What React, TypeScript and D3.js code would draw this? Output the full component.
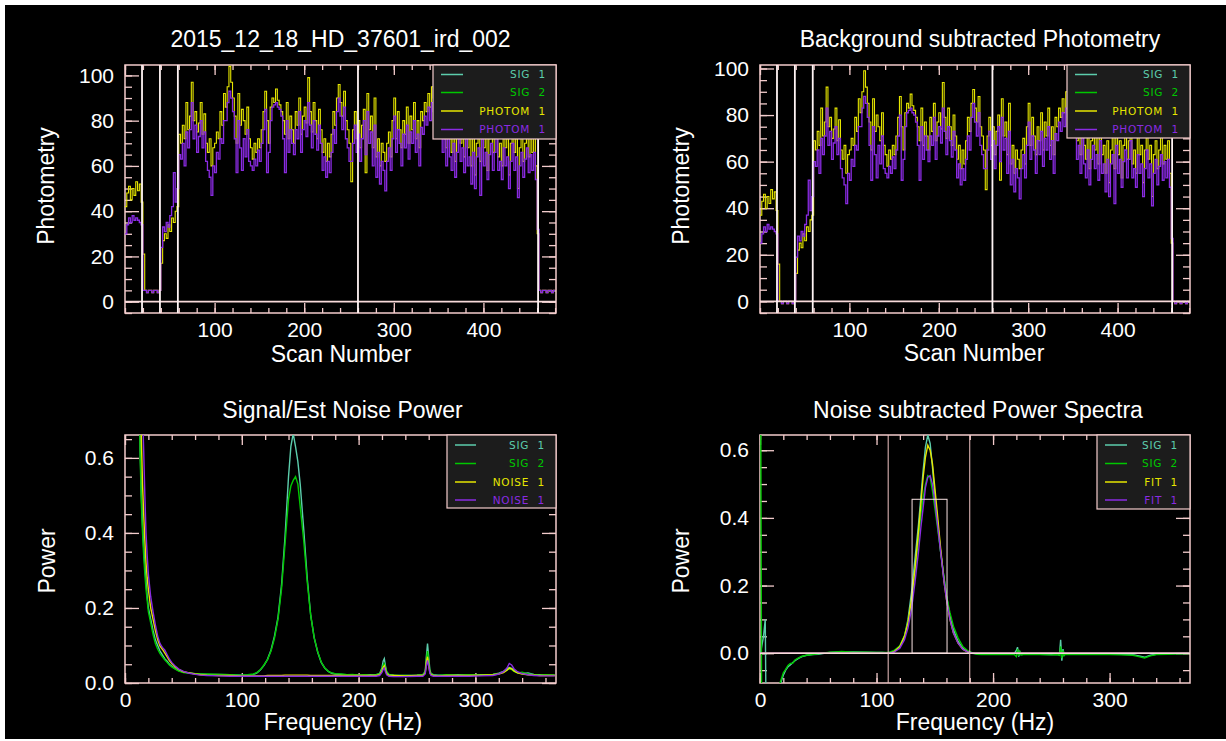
import { useEffect, useRef } from "react";
import * as d3 from "d3";

const W = 1226;
const H = 741;

// ---- photometry (one value every 2 scans, scan 0 .. 480)
const scans = d3.range(0, 482, 2);

const rawPhotomYellow = [
  42, 48, 51, 45, 50, 47, 53, 49, 52, 44,
  21, 5, 4, 5, 5, 4, 5, 5, 4, 5,
  17, 27, 30, 28, 34, 31, 37, 35, 40, 42,
  74, 70, 78, 72, 88, 76,
  82, 97, 80, 84, 75, 79, 88, 74, 83, 70,
  66, 72, 60, 68, 70, 75, 72, 84, 78, 92,
  86, 95, 104, 97, 90, 82, 70, 92, 78, 85,
  80, 74, 86, 72, 68, 63, 70, 66, 72, 68,
  76, 84, 93, 80, 70, 86, 90, 88, 94, 89,
  87, 84, 80, 74, 88, 72, 82, 76, 70, 84,
  78, 90, 74, 82, 86, 79, 99, 84, 75, 88,
  80, 72, 85, 76, 66, 72, 62, 70, 64, 74,
  84, 78, 90, 96, 88, 82, 93, 80, 76, 70,
  53, 76, 84, 72, 80, 68, 78, 85, 57, 92,
  76, 82, 68, 90, 64, 72, 60, 70, 66, 62,
  70, 75, 64, 80, 90, 72, 84, 76, 68, 80,
  74, 86, 70, 82, 76, 88, 72, 80, 68, 84,
  80, 88, 84, 92, 86, 95, 90, 97, 88, 82,
  86, 74, 80, 68, 90, 72, 66, 78, 62, 74,
  80, 70, 76, 64, 82, 68, 72, 60, 74, 56,
  70, 76, 62, 80, 68, 74, 58, 72, 78, 66,
  74, 82, 64, 70, 60, 76, 68, 72, 56, 70,
  78, 66, 72, 50, 68, 74, 62, 70, 76, 64,
  72, 66, 74, 60,
  30, 5, 4, 5, 5, 4, 5, 5, 4, 5, 5,
];

const rawPhotomPurple = [
  30, 34, 37, 35, 38, 36, 37, 36, 35, 34,
  5, 5, 4, 5, 5, 4, 5, 5, 4, 5,
  24, 33, 31, 35, 33, 38, 42, 57, 44, 50,
  65, 63, 70, 60, 75, 68,
  76, 88, 72, 78, 66, 73, 80, 68, 75, 62,
  58, 55, 47, 60, 57, 66, 63, 72, 70, 80,
  80, 88, 93, 90, 84, 72, 57, 80, 68, 58,
  72, 64, 76, 62, 60, 58, 63, 60, 67, 62,
  70, 76, 85, 57, 66, 80, 86, 87, 88, 86,
  85, 82, 72, 57, 80, 66, 76, 70, 65, 76,
  72, 84, 66, 76, 80, 73, 88, 78, 68, 80,
  74, 67, 78, 70, 58, 64, 55, 62, 57, 66,
  76, 70, 84, 90, 82, 76, 86, 72, 68, 62,
  62, 70, 78, 66, 74, 62, 72, 80, 65, 84,
  70, 75, 60, 78, 55, 66, 52, 62, 58, 49,
  62, 68, 58, 72, 82, 66, 76, 70, 60, 74,
  68, 78, 63, 75, 70, 80, 66, 74, 60, 77,
  74, 82, 78, 86, 80, 88, 84, 90, 80, 76,
  78, 66, 72, 60, 82, 64, 58, 70, 55, 66,
  72, 62, 68, 57, 74, 60, 64, 52, 66, 50,
  64, 68, 47, 72, 60, 66, 54, 65, 70, 58,
  66, 74, 58, 62, 54, 68, 60, 64, 50, 62,
  70, 58, 64, 46, 60, 66, 55, 63, 68, 57,
  65, 58, 66, 54,
  32, 5, 4, 5, 5, 4, 5, 5, 4, 5, 5,
];

const subPhotomYellow = [
  37, 43, 46, 40, 45, 42, 48, 44, 47, 39,
  16, 0, -1, 0, 0, -1, 0, 0, -1, 0,
  12, 22, 25, 23, 29, 26, 32, 30, 35, 37,
  69, 65, 73, 67, 83, 71,
  77, 92, 75, 79, 70, 74, 83, 69, 78, 65,
  61, 67, 55, 63, 65, 70, 67, 79, 73, 87,
  81, 90, 99, 92, 85, 77, 65, 87, 73, 80,
  75, 69, 81, 67, 63, 58, 65, 61, 67, 63,
  71, 79, 88, 75, 65, 81, 85, 83, 89, 84,
  82, 79, 75, 69, 83, 67, 77, 71, 65, 79,
  73, 85, 69, 77, 81, 74, 94, 79, 70, 83,
  75, 67, 80, 71, 61, 67, 57, 65, 59, 69,
  79, 73, 85, 91, 83, 77, 88, 75, 71, 65,
  48, 71, 79, 67, 75, 63, 73, 80, 52, 87,
  71, 77, 63, 85, 59, 67, 55, 65, 61, 57,
  65, 70, 59, 75, 85, 67, 79, 71, 63, 75,
  69, 81, 65, 77, 71, 83, 67, 75, 63, 79,
  75, 83, 79, 87, 81, 90, 85, 92, 83, 77,
  81, 69, 75, 63, 85, 67, 61, 73, 57, 69,
  75, 65, 71, 59, 77, 63, 67, 55, 69, 51,
  65, 71, 57, 75, 63, 69, 53, 67, 73, 61,
  69, 77, 59, 65, 55, 71, 63, 67, 51, 65,
  73, 61, 67, 45, 63, 69, 57, 65, 71, 59,
  67, 61, 69, 55,
  25, 0, -1, 0, 0, -1, 0, 0, -1, 0, 0,
];

const subPhotomPurple = [
  25, 29, 32, 30, 33, 31, 32, 31, 30, 29,
  0, 0, -1, 0, 0, -1, 0, 0, -1, 0,
  19, 28, 26, 30, 28, 33, 37, 52, 39, 45,
  60, 58, 65, 55, 70, 63,
  71, 83, 67, 73, 61, 68, 75, 63, 70, 57,
  53, 50, 42, 55, 52, 61, 58, 67, 65, 75,
  75, 83, 88, 85, 79, 67, 52, 75, 63, 53,
  67, 59, 71, 57, 55, 53, 58, 55, 62, 57,
  65, 71, 80, 52, 61, 75, 81, 82, 83, 81,
  80, 77, 67, 52, 75, 61, 71, 65, 60, 71,
  67, 79, 61, 71, 75, 68, 83, 73, 63, 75,
  69, 62, 73, 65, 53, 59, 50, 57, 52, 61,
  71, 65, 79, 85, 77, 71, 81, 67, 63, 57,
  57, 65, 73, 61, 69, 57, 67, 75, 60, 79,
  65, 70, 55, 73, 50, 61, 47, 57, 53, 44,
  57, 63, 53, 67, 77, 61, 71, 65, 55, 69,
  63, 73, 58, 70, 65, 75, 61, 69, 55, 72,
  69, 77, 73, 81, 75, 83, 79, 85, 75, 71,
  73, 61, 67, 55, 77, 59, 53, 65, 50, 61,
  67, 57, 63, 52, 69, 55, 59, 47, 61, 45,
  59, 63, 42, 67, 55, 61, 49, 60, 65, 53,
  61, 69, 53, 57, 49, 63, 55, 59, 45, 57,
  65, 53, 59, 41, 55, 61, 50, 58, 63, 52,
  60, 53, 61, 49,
  27, 0, -1, 0, 0, -1, 0, 0, -1, 0, 0,
];

// scan numbers where the white markers are drawn
const scanMarks = [19, 39, 59, 260, 461];

// ---- signal / estimated noise power
const snFreq = [
  12, 13, 14, 15, 16, 17, 18, 19, 20,
  22, 24, 26, 28, 30, 32, 34, 36, 38, 40,
  43, 46, 50, 55, 60, 65, 70, 80, 90, 100, 105, 110,
  113, 116, 119, 122, 125, 128, 131, 134, 137, 140,
  142, 144, 146, 148, 150,
  153, 156, 159, 162, 165, 168, 171, 174, 177, 180,
  185, 190, 195, 200, 205, 210, 215, 218, 220,
  221, 222, 223, 224, 226, 230, 240, 250, 255,
  257, 258, 259, 260, 261, 262, 264, 268, 275,
  285, 295, 305, 315, 320, 324, 327, 329, 331, 333,
  336, 340, 345, 350, 355, 360, 368,
];

const snSig1 = [
  0.9, 0.62, 0.5, 0.42, 0.36, 0.31, 0.27, 0.23, 0.2,
  0.17, 0.14, 0.115, 0.1, 0.085, 0.075, 0.065, 0.058, 0.05, 0.045,
  0.038, 0.033, 0.029, 0.027, 0.025, 0.024, 0.023, 0.023, 0.022, 0.021, 0.021, 0.023,
  0.027, 0.035, 0.047, 0.063, 0.088, 0.125, 0.175, 0.26, 0.39, 0.55,
  0.63, 0.665, 0.63, 0.59, 0.53,
  0.41, 0.28, 0.18, 0.12, 0.082, 0.055, 0.04, 0.031, 0.026, 0.024,
  0.023, 0.022, 0.022, 0.021, 0.021, 0.022, 0.022, 0.025, 0.04,
  0.058, 0.065, 0.045, 0.03, 0.023, 0.021, 0.02, 0.021, 0.022,
  0.03, 0.07, 0.105, 0.07, 0.035, 0.025, 0.022, 0.021, 0.021,
  0.022, 0.021, 0.022, 0.023, 0.026, 0.031, 0.037, 0.041, 0.039, 0.034,
  0.028, 0.025, 0.027, 0.023, 0.022, 0.021, 0.021,
];

const snSig2 = [
  0.85, 0.6, 0.48, 0.4, 0.34, 0.29, 0.25, 0.22, 0.19,
  0.16, 0.13, 0.105, 0.09, 0.078, 0.07, 0.062, 0.055, 0.048, 0.043,
  0.037, 0.032, 0.028, 0.026, 0.025, 0.024, 0.024, 0.023, 0.022, 0.021, 0.022, 0.024,
  0.028, 0.036, 0.048, 0.062, 0.085, 0.12, 0.17, 0.25, 0.37, 0.49,
  0.525, 0.54, 0.55, 0.53, 0.47,
  0.38, 0.27, 0.18, 0.12, 0.083, 0.056, 0.04, 0.031, 0.027, 0.025,
  0.024, 0.022, 0.023, 0.021, 0.022, 0.021, 0.022, 0.024, 0.035,
  0.048, 0.052, 0.04, 0.028, 0.022, 0.021, 0.02, 0.021, 0.022,
  0.028, 0.06, 0.085, 0.06, 0.03, 0.024, 0.021, 0.02, 0.022,
  0.021, 0.022, 0.021, 0.023, 0.025, 0.029, 0.034, 0.038, 0.036, 0.031,
  0.027, 0.029, 0.024, 0.022, 0.021, 0.022, 0.021,
];

const snNoiseYellow = [
  1.0, 0.8, 0.65, 0.53, 0.45, 0.38, 0.32, 0.28, 0.25,
  0.2, 0.17, 0.14, 0.115, 0.098, 0.09, 0.08, 0.07, 0.06, 0.052,
  0.043, 0.036, 0.03, 0.027, 0.024, 0.022, 0.021, 0.02, 0.02, 0.019, 0.019, 0.019,
  0.019, 0.019, 0.019, 0.02, 0.02, 0.02, 0.02, 0.02, 0.021, 0.021,
  0.021, 0.021, 0.021, 0.021, 0.021,
  0.021, 0.021, 0.02, 0.02, 0.02, 0.02, 0.02, 0.02, 0.02, 0.02,
  0.02, 0.02, 0.02, 0.02, 0.02, 0.02, 0.02, 0.022, 0.032,
  0.042, 0.046, 0.035, 0.025, 0.02, 0.02, 0.019, 0.02, 0.02,
  0.026, 0.055, 0.07, 0.05, 0.028, 0.022, 0.02, 0.019, 0.02,
  0.02, 0.02, 0.021, 0.022, 0.024, 0.028, 0.034, 0.04, 0.038, 0.032,
  0.027, 0.024, 0.022, 0.021, 0.02, 0.02, 0.02,
];

const snNoisePurple = [
  1.2, 1.0, 0.85, 0.72, 0.62, 0.5, 0.4, 0.34, 0.29,
  0.23, 0.19, 0.155, 0.125, 0.105, 0.095, 0.088, 0.076, 0.064, 0.055,
  0.045, 0.037, 0.031, 0.026, 0.023, 0.021, 0.02, 0.019, 0.018, 0.018, 0.018, 0.018,
  0.018, 0.018, 0.018, 0.018, 0.018, 0.018, 0.018, 0.018, 0.018, 0.018,
  0.018, 0.018, 0.018, 0.018, 0.018,
  0.018, 0.018, 0.018, 0.018, 0.018, 0.018, 0.018, 0.018, 0.018, 0.018,
  0.018, 0.018, 0.018, 0.018, 0.018, 0.018, 0.018, 0.02, 0.028,
  0.036, 0.04, 0.03, 0.022, 0.018, 0.017, 0.017, 0.018, 0.018,
  0.024, 0.045, 0.06, 0.045, 0.026, 0.02, 0.018, 0.018, 0.018,
  0.018, 0.018, 0.019, 0.02, 0.024, 0.03, 0.04, 0.052, 0.048, 0.038,
  0.03, 0.025, 0.022, 0.02, 0.019, 0.019, 0.019,
];

// ---- noise subtracted power spectra
const nsFreq = [
  0.5, 1.5, 3, 4.5, 5.5, 8, 12, 16, 18, 20,
  22, 24, 26, 28, 30, 33, 36, 40, 45, 50,
  55, 60, 65, 70, 80, 90, 100, 105, 110, 115,
  120, 124, 127, 130, 133, 136, 138, 140, 142, 144,
  146, 148, 150, 152, 155, 158, 160, 163, 166, 170,
  174, 178, 182, 186, 190, 200, 210, 218, 220, 221,
  222, 223, 224, 226, 230, 240, 250, 255, 257, 258,
  259, 260, 261, 262, 264, 270, 280, 290, 300, 310,
  320, 325, 330, 335, 340, 350, 360, 368,
];

const nsSig1 = [
  0.0, 0.02, 0.05, 0.1, -0.3, -0.4, -0.3, -0.11, -0.085, -0.065,
  -0.05, -0.04, -0.035, -0.028, -0.022, -0.015, -0.01, -0.006, -0.004, -0.003,
  0.0, 0.002, 0.003, 0.004, 0.004, 0.003, 0.002, 0.002, 0.001, 0.006,
  0.02, 0.05, 0.1, 0.18, 0.28, 0.38, 0.46, 0.54, 0.61, 0.645,
  0.62, 0.55, 0.47, 0.4, 0.3, 0.22, 0.17, 0.11, 0.07, 0.035,
  0.015, 0.005, 0.0, -0.002, -0.003, -0.002, -0.003, -0.002, 0.008, 0.018,
  -0.01, 0.004, -0.004, -0.003, -0.002, -0.003, -0.004, -0.003, -0.005, 0.04,
  -0.022, 0.012, -0.006, -0.002, -0.003, -0.002, -0.003, -0.002, -0.003, -0.003,
  -0.004, -0.008, -0.012, -0.006, -0.003, -0.002, -0.001, 0.0,
];

const nsSig2 = [
  0.9, -0.3, -0.35, -0.3, -0.3, -0.35, -0.3, -0.1, -0.08, -0.058,
  -0.048, -0.036, -0.03, -0.03, -0.02, -0.014, -0.009, -0.006, -0.004, -0.002,
  0.001, 0.003, 0.004, 0.005, 0.003, 0.003, 0.002, 0.002, 0.002, 0.008,
  0.022, 0.052, 0.092, 0.15, 0.24, 0.34, 0.41, 0.46, 0.5, 0.525,
  0.52, 0.48, 0.43, 0.38, 0.3, 0.22, 0.17, 0.12, 0.08, 0.045,
  0.02, 0.008, 0.002, -0.003, -0.004, -0.003, -0.004, -0.003, -0.01, 0.012,
  -0.008, 0.005, -0.005, -0.004, -0.003, -0.004, -0.005, -0.004, -0.006, 0.02,
  -0.015, 0.008, -0.007, -0.003, -0.004, -0.003, -0.004, -0.004, -0.004, -0.005,
  -0.006, -0.01, -0.014, -0.008, -0.004, -0.003, -0.002, -0.001,
];

const nsFitYellow = [
  0, 0, 0, 0, 0, 0, 0, 0, 0, 0,
  0, 0, 0, 0, 0, 0, 0, 0, 0, 0,
  0, 0, 0, 0, 0, 0, 0, 0, 0, 0.004,
  0.02, 0.05, 0.09, 0.16, 0.25, 0.36, 0.44, 0.52, 0.58, 0.615,
  0.6, 0.56, 0.49, 0.42, 0.31, 0.21, 0.16, 0.1, 0.06, 0.03,
  0.012, 0.004, 0.001, 0, 0, 0, 0, 0, 0, 0,
  0, 0, 0, 0, 0, 0, 0, 0, 0, 0,
  0, 0, 0, 0, 0, 0, 0, 0, 0, 0,
  0, 0, 0, 0, 0, 0, 0, 0,
];

const nsFitPurple = [
  0, 0, 0, 0, 0, 0, 0, 0, 0, 0,
  0, 0, 0, 0, 0, 0, 0, 0, 0, 0,
  0, 0, 0, 0, 0, 0, 0, 0, 0, 0.003,
  0.015, 0.04, 0.075, 0.13, 0.21, 0.3, 0.37, 0.43, 0.49, 0.52,
  0.525, 0.5, 0.45, 0.39, 0.3, 0.21, 0.16, 0.1, 0.06, 0.03,
  0.012, 0.004, 0.001, 0, 0, 0, 0, 0, 0, 0,
  0, 0, 0, 0, 0, 0, 0, 0, 0, 0,
  0, 0, 0, 0, 0, 0, 0, 0, 0, 0,
  0, 0, 0, 0, 0, 0, 0, 0,
];

const fitBandEdges = [110, 180];
const fitWindow = { from: 130.5, to: 160.5, height: 0.455 };

const C_SIG1 = "#5ccdac";
const C_SIG2 = "#00c800";
const C_YEL = "#e6e600";
const C_PUR = "#8a2be2";
const PINK = "#f3cccc";
const FONT = "'Liberation Sans', Arial, Helvetica, sans-serif";

type Series = { x: number[]; y: number[]; color: string; width: number };

interface Panel {
  id: string;
  box: [number, number, number, number];
  xDomain: [number, number];
  yDomain: [number, number];
  xMajor: number;
  xMinor: number;
  yMajor: number;
  yMinor: number;
  xLabelZero: boolean;
  yFmt: (v: number) => string;
  title: string;
  titleX: number;
  titleY: number;
  xLabel: string;
  xLabelX: number;
  xLabelY: number;
  yLabel: string;
  yLabelX: number;
  yLabelY: number;
  step: boolean;
  series: Series[];
  legendLabels: string[];
  legend: { left: number; bottom: number; lx0: number; lx1: number; textRight: number; rows: number[] };
  marks?: number[];
  zeroLine?: boolean;
  band?: boolean;
}

const ticksOf = (d: [number, number], step: number) => {
  const k0 = Math.ceil(d[0] / step - 1e-6);
  const k1 = Math.floor(d[1] / step + 1e-6);
  return d3.range(k0, k1 + 1).map((k) => +(k * step).toFixed(6));
};

const rowsTop = [74.5, 92.5, 111, 129.5];
const rowsBottom = [445, 463.5, 482, 500];

const panels: Panel[] = [
  {
    id: "tl",
    box: [125, 65, 556, 313],
    xDomain: [0, 481],
    yDomain: [-5, 104.6],
    xMajor: 100, xMinor: 20, yMajor: 20, yMinor: 5,
    xLabelZero: false,
    yFmt: (v) => String(v),
    title: "2015_12_18_HD_37601_ird_002", titleX: 340.5, titleY: 47,
    xLabel: "Scan Number", xLabelX: 341, xLabelY: 362,
    yLabel: "Photometry", yLabelX: 54, yLabelY: 186,
    step: true,
    series: [
      { x: scans, y: rawPhotomYellow, color: C_YEL, width: 1.1 },
      { x: scans, y: rawPhotomPurple, color: C_PUR, width: 1.3 },
    ],
    legendLabels: ["SIG  1", "SIG  2", "PHOTOM  1", "PHOTOM  1"],
    legend: { left: 433, bottom: 139, lx0: 441, lx1: 463, textRight: 546, rows: rowsTop },
    marks: scanMarks,
    zeroLine: true,
  },
  {
    id: "tr",
    box: [760, 65, 1190, 313],
    xDomain: [0, 481],
    yDomain: [-5, 101.5],
    xMajor: 100, xMinor: 20, yMajor: 20, yMinor: 5,
    xLabelZero: false,
    yFmt: (v) => String(v),
    title: "Background subtracted Photometry", titleX: 980, titleY: 47,
    xLabel: "Scan Number", xLabelX: 974, xLabelY: 361,
    yLabel: "Photometry", yLabelX: 689, yLabelY: 186,
    step: true,
    series: [
      { x: scans, y: subPhotomYellow, color: C_YEL, width: 1.1 },
      { x: scans, y: subPhotomPurple, color: C_PUR, width: 1.3 },
    ],
    legendLabels: ["SIG  1", "SIG  2", "PHOTOM  1", "PHOTOM  1"],
    legend: { left: 1067, bottom: 138, lx0: 1075, lx1: 1097, textRight: 1179, rows: rowsTop },
    marks: scanMarks,
    zeroLine: true,
  },
  {
    id: "bl",
    box: [125, 435, 556, 683],
    xDomain: [0, 369],
    yDomain: [0, 0.661],
    xMajor: 100, xMinor: 20, yMajor: 0.2, yMinor: 0.05,
    xLabelZero: true,
    yFmt: d3.format(".1f"),
    title: "Signal/Est Noise Power", titleX: 342.5, titleY: 418,
    xLabel: "Frequency (Hz)", xLabelX: 343, xLabelY: 730,
    yLabel: "Power", yLabelX: 55, yLabelY: 561,
    step: false,
    series: [
      { x: snFreq, y: snSig1, color: C_SIG1, width: 1.4 },
      { x: snFreq, y: snSig2, color: C_SIG2, width: 1.4 },
      { x: snFreq, y: snNoiseYellow, color: C_YEL, width: 1.4 },
      { x: snFreq, y: snNoisePurple, color: C_PUR, width: 1.4 },
    ],
    legendLabels: ["SIG  1", "SIG  2", "NOISE  1", "NOISE  1"],
    legend: { left: 447, bottom: 508, lx0: 455, lx1: 476, textRight: 545, rows: rowsBottom },
  },
  {
    id: "br",
    box: [760, 435, 1190, 683],
    xDomain: [0, 369],
    yDomain: [-0.088, 0.645],
    xMajor: 100, xMinor: 20, yMajor: 0.2, yMinor: 0.05,
    xLabelZero: true,
    yFmt: d3.format(".1f"),
    title: "Noise subtracted Power Spectra", titleX: 978, titleY: 418,
    xLabel: "Frequency (Hz)", xLabelX: 975, xLabelY: 730,
    yLabel: "Power", yLabelX: 689, yLabelY: 561,
    step: false,
    series: [
      { x: nsFreq, y: nsSig1, color: C_SIG1, width: 1.4 },
      { x: nsFreq, y: nsSig2, color: C_SIG2, width: 1.4 },
      { x: nsFreq, y: nsFitYellow, color: C_YEL, width: 1.4 },
      { x: nsFreq, y: nsFitPurple, color: C_PUR, width: 1.4 },
    ],
    legendLabels: ["SIG  1", "SIG  2", "FIT  1", "FIT  1"],
    legend: { left: 1097, bottom: 509, lx0: 1105, lx1: 1127, textRight: 1178, rows: rowsBottom },
    zeroLine: true,
    band: true,
  },
];

function drawPanel(svg: d3.Selection<SVGSVGElement, unknown, null, undefined>, p: Panel) {
  const [x0, y0, x1, y1] = p.box;
  const x = d3.scaleLinear().domain(p.xDomain).range([x0, x1]);
  const y = d3.scaleLinear().domain(p.yDomain).range([y1, y0]);
  const g = svg.append("g");

  const xMaj = ticksOf(p.xDomain, p.xMajor);
  const xMin = ticksOf(p.xDomain, p.xMinor);
  const yMaj = ticksOf(p.yDomain, p.yMajor);
  const yMin = ticksOf(p.yDomain, p.yMinor);
  const xLab = p.xLabelZero ? xMaj : xMaj.filter((v) => v !== 0);

  const style = (sel: any) => {
    sel.select(".domain").remove();
    sel.selectAll("line").attr("stroke", PINK).attr("stroke-width", 1.3);
    sel.selectAll("text").attr("fill", "#fff").attr("font-size", 21).attr("font-family", FONT);
  };
  const none = () => "";

  // ticks point inward on all four sides
  g.append("g").attr("transform", `translate(0,${y1})`)
    .call(d3.axisBottom(x).tickValues(xMin).tickSize(-5).tickSizeOuter(0).tickFormat(none)).call(style);
  g.append("g").attr("transform", `translate(0,${y1})`)
    .call(d3.axisBottom(x).tickValues(xLab).tickSize(-10).tickSizeOuter(0).tickPadding(9).tickFormat((d) => String(d))).call(style);
  g.append("g").attr("transform", `translate(0,${y0})`)
    .call(d3.axisTop(x).tickValues(xMin).tickSize(-5).tickSizeOuter(0).tickFormat(none)).call(style);
  g.append("g").attr("transform", `translate(0,${y0})`)
    .call(d3.axisTop(x).tickValues(xMaj).tickSize(-10).tickSizeOuter(0).tickFormat(none)).call(style);
  g.append("g").attr("transform", `translate(${x0},0)`)
    .call(d3.axisLeft(y).tickValues(yMin).tickSize(-7).tickSizeOuter(0).tickFormat(none)).call(style);
  g.append("g").attr("transform", `translate(${x0},0)`)
    .call(d3.axisLeft(y).tickValues(yMaj).tickSize(-14).tickSizeOuter(0).tickPadding(11).tickFormat((d) => p.yFmt(+d))).call(style);
  g.append("g").attr("transform", `translate(${x1},0)`)
    .call(d3.axisRight(y).tickValues(yMin).tickSize(-7).tickSizeOuter(0).tickFormat(none)).call(style);
  g.append("g").attr("transform", `translate(${x1},0)`)
    .call(d3.axisRight(y).tickValues(yMaj).tickSize(-14).tickSizeOuter(0).tickFormat(none)).call(style);

  g.append("rect")
    .attr("x", x0).attr("y", y0).attr("width", x1 - x0).attr("height", y1 - y0)
    .attr("fill", "none").attr("stroke", PINK).attr("stroke-width", 1.5);

  const clipId = `clip-${p.id}`;
  svg.append("clipPath").attr("id", clipId).append("rect")
    .attr("x", x0).attr("y", y0).attr("width", x1 - x0).attr("height", y1 - y0);
  const plot = g.append("g").attr("clip-path", `url(#${clipId})`);

  p.series.forEach((s) => {
    const line = d3.line<number>()
      .x((_, i) => x(s.x[i]))
      .y((d) => y(d))
      .curve(p.step ? d3.curveStepAfter : d3.curveLinear);
    plot.append("path")
      .attr("d", line(s.y))
      .attr("fill", "none")
      .attr("stroke", s.color)
      .attr("stroke-width", s.width);
  });

  if (p.zeroLine) {
    plot.append("line")
      .attr("x1", x0).attr("x2", x1).attr("y1", y(0)).attr("y2", y(0))
      .attr("stroke", "#f8dada").attr("stroke-width", p.band ? 1.3 : 1.7);
  }
  if (p.marks) {
    p.marks.forEach((m) => {
      plot.append("line")
        .attr("x1", x(m)).attr("x2", x(m)).attr("y1", y0).attr("y2", y1)
        .attr("stroke", "#fff4f4").attr("stroke-width", 1.8);
    });
  }
  if (p.band) {
    fitBandEdges.forEach((f) => {
      plot.append("line")
        .attr("x1", x(f)).attr("x2", x(f)).attr("y1", y0).attr("y2", y1)
        .attr("stroke", "#f0c4c4").attr("stroke-width", 1);
    });
    plot.append("rect")
      .attr("x", x(fitWindow.from)).attr("y", y(fitWindow.height))
      .attr("width", x(fitWindow.to) - x(fitWindow.from))
      .attr("height", y(0) - y(fitWindow.height))
      .attr("fill", "none").attr("stroke", "#f8e2e2").attr("stroke-width", 1);
  }

  // legend
  const L = p.legend;
  g.append("rect")
    .attr("x", L.left).attr("y", y0).attr("width", x1 - L.left).attr("height", L.bottom - y0)
    .attr("fill", "#1c1c1c").attr("stroke", PINK).attr("stroke-width", 1.2);
  const legendColors = [C_SIG1, C_SIG2, C_YEL, C_PUR];
  L.rows.forEach((ry, i) => {
    g.append("line")
      .attr("x1", L.lx0).attr("x2", L.lx1).attr("y1", ry).attr("y2", ry)
      .attr("stroke", legendColors[i]).attr("stroke-width", 1.5);
    g.append("text")
      .attr("x", L.textRight).attr("y", ry).attr("dy", "0.36em")
      .attr("text-anchor", "end")
      .attr("fill", legendColors[i])
      .attr("font-family", "'DejaVu Sans', sans-serif")
      .attr("font-size", 10.5)
      .attr("letter-spacing", 0.8)
      .style("white-space", "pre")
      .text(p.legendLabels[i]);
  });

  // titles
  g.append("text")
    .attr("x", p.titleX).attr("y", p.titleY).attr("text-anchor", "middle")
    .attr("fill", "#fff").attr("font-family", FONT).attr("font-size", 23)
    .text(p.title);
  g.append("text")
    .attr("x", p.xLabelX).attr("y", p.xLabelY).attr("text-anchor", "middle")
    .attr("fill", "#fff").attr("font-family", FONT).attr("font-size", 23)
    .text(p.xLabel);
  g.append("text")
    .attr("transform", `translate(${p.yLabelX},${p.yLabelY}) rotate(-90)`)
    .attr("text-anchor", "middle")
    .attr("fill", "#fff").attr("font-family", FONT).attr("font-size", 23)
    .text(p.yLabel);
}

export default function App() {
  const ref = useRef<SVGSVGElement>(null);

  useEffect(() => {
    const svg = d3.select(ref.current as SVGSVGElement);
    svg.selectAll("*").remove();
    svg.append("rect").attr("width", W).attr("height", H).attr("fill", "#fff");
    svg.append("rect").attr("x", 5).attr("y", 5).attr("width", W - 5).attr("height", H - 7).attr("fill", "#000");
    panels.forEach((p) => drawPanel(svg, p));
  }, []);

  return (
    <svg
      ref={ref}
      width={W}
      height={H}
      style={{ position: "absolute", left: 0, top: 0, display: "block" }}
    />
  );
}
